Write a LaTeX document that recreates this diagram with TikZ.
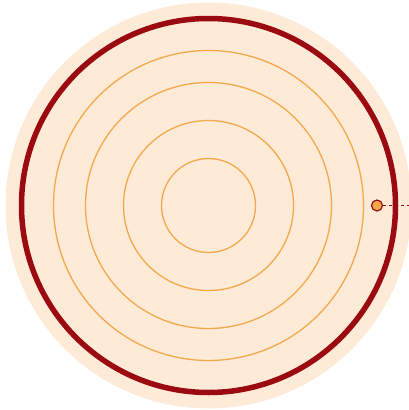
\documentclass[tikz,border=0pt]{standalone}
\usepackage{tikz}
\usetikzlibrary{positioning, calc}
\definecolor{peach}{RGB}{253, 235, 215}
\definecolor{ringorange}{RGB}{246, 168, 76}
\definecolor{rimred}{RGB}{155, 10, 16}

\begin{document}
\begin{tikzpicture}[x=1pt, y=-1pt]
\useasboundingbox (0,0) rectangle (409,410);
\begin{scope}
    \clip (0,0) rectangle (409,410);
    \coordinate (centre) at (208.5,205.5);
    \fill[peach] (centre) circle (203);
    \draw[ringorange, line width=1.3pt] (centre) circle (47);
    \draw[ringorange, line width=1.3pt] (centre) circle (85);
    \draw[ringorange, line width=1.3pt] (centre) circle (123);
    \draw[ringorange, line width=1.3pt] (centre) circle (155);
    \draw[rimred, line width=5.5pt] (centre) circle (187);
    \node[circle, draw=rimred, fill=ringorange, line width=1.2pt, minimum size=11pt, inner sep=0pt] (probe) at (377,205.5) {};
    \coordinate (edge) at (412,205.5);
    \draw[rimred, line width=1.7pt, dash pattern=on 3pt off 3pt] (probe) -- (edge);
\end{scope}
\end{tikzpicture}
\end{document}
